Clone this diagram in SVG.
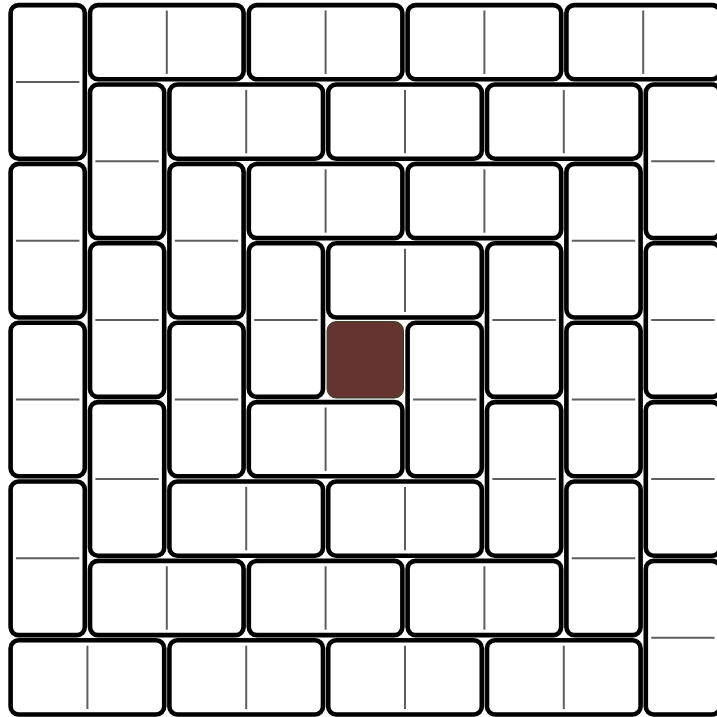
<svg xmlns="http://www.w3.org/2000/svg" xmlns:xlink="http://www.w3.org/1999/xlink" width="717" height="717" viewBox="0 0 717 717">
<style>
.tile{fill:#ffffff;stroke:#000000;stroke-width:4.6}
.mid{stroke:#5e5e5e;stroke-width:2}
.hole{fill:#653431;stroke:#2f3b1f;stroke-width:1}
</style>
<defs>
<g id="V"><rect class="tile" x="2.6" y="2.6" width="74.2" height="153.6" rx="8"/><line class="mid" x1="8" y1="79.4" x2="71.4" y2="79.4"/></g>
<g id="H"><rect class="tile" x="2.6" y="2.6" width="153.6" height="74.2" rx="8"/><line class="mid" x1="79.4" y1="8" x2="79.4" y2="71.4"/></g>
</defs>
<rect width="717" height="717" fill="#ffffff"/>
<g id="tiles">
<g id="v-0-0" transform="translate(8,2.5)"><use href="#V"/></g>
<g id="v-1-1" transform="translate(87.4,81.9)"><use href="#V"/></g>
<g id="v-8-1" transform="translate(643.2,81.9)"><use href="#V"/></g>
<g id="v-0-2" transform="translate(8,161.3)"><use href="#V"/></g>
<g id="v-2-2" transform="translate(166.8,161.3)"><use href="#V"/></g>
<g id="v-7-2" transform="translate(563.8,161.3)"><use href="#V"/></g>
<g id="v-1-3" transform="translate(87.4,240.7)"><use href="#V"/></g>
<g id="v-3-3" transform="translate(246.2,240.7)"><use href="#V"/></g>
<g id="v-6-3" transform="translate(484.4,240.7)"><use href="#V"/></g>
<g id="v-8-3" transform="translate(643.2,240.7)"><use href="#V"/></g>
<g id="v-0-4" transform="translate(8,320.1)"><use href="#V"/></g>
<g id="v-2-4" transform="translate(166.8,320.1)"><use href="#V"/></g>
<g id="v-5-4" transform="translate(405,320.1)"><use href="#V"/></g>
<g id="v-7-4" transform="translate(563.8,320.1)"><use href="#V"/></g>
<g id="v-1-5" transform="translate(87.4,399.5)"><use href="#V"/></g>
<g id="v-6-5" transform="translate(484.4,399.5)"><use href="#V"/></g>
<g id="v-8-5" transform="translate(643.2,399.5)"><use href="#V"/></g>
<g id="v-0-6" transform="translate(8,478.9)"><use href="#V"/></g>
<g id="v-7-6" transform="translate(563.8,478.9)"><use href="#V"/></g>
<g id="v-8-7" transform="translate(643.2,558.3)"><use href="#V"/></g>
<g id="h-1-0" transform="translate(87.4,2.5)"><use href="#H"/></g>
<g id="h-3-0" transform="translate(246.2,2.5)"><use href="#H"/></g>
<g id="h-5-0" transform="translate(405,2.5)"><use href="#H"/></g>
<g id="h-7-0" transform="translate(563.8,2.5)"><use href="#H"/></g>
<g id="h-2-1" transform="translate(166.8,81.9)"><use href="#H"/></g>
<g id="h-4-1" transform="translate(325.6,81.9)"><use href="#H"/></g>
<g id="h-6-1" transform="translate(484.4,81.9)"><use href="#H"/></g>
<g id="h-3-2" transform="translate(246.2,161.3)"><use href="#H"/></g>
<g id="h-5-2" transform="translate(405,161.3)"><use href="#H"/></g>
<g id="h-4-3" transform="translate(325.6,240.7)"><use href="#H"/></g>
<g id="h-3-5" transform="translate(246.2,399.5)"><use href="#H"/></g>
<g id="h-2-6" transform="translate(166.8,478.9)"><use href="#H"/></g>
<g id="h-4-6" transform="translate(325.6,478.9)"><use href="#H"/></g>
<g id="h-1-7" transform="translate(87.4,558.3)"><use href="#H"/></g>
<g id="h-3-7" transform="translate(246.2,558.3)"><use href="#H"/></g>
<g id="h-5-7" transform="translate(405,558.3)"><use href="#H"/></g>
<g id="h-0-8" transform="translate(8,637.7)"><use href="#H"/></g>
<g id="h-2-8" transform="translate(166.8,637.7)"><use href="#H"/></g>
<g id="h-4-8" transform="translate(325.6,637.7)"><use href="#H"/></g>
<g id="h-6-8" transform="translate(484.4,637.7)"><use href="#H"/></g>
<g id="center" transform="translate(325.6,320.1)"><rect class="hole" x="1.5" y="1.5" width="76.4" height="76.4" rx="9"/></g>
</g>
</svg>
